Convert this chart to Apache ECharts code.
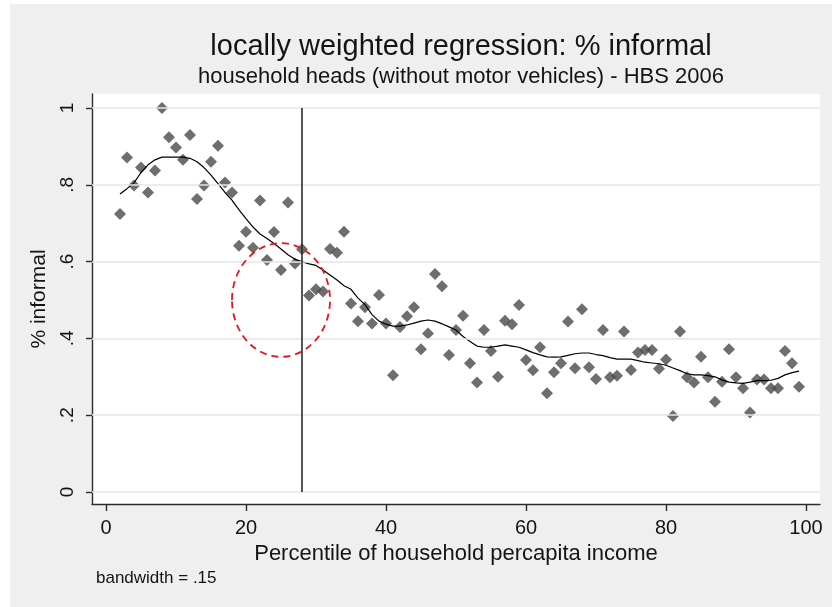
<!DOCTYPE html>
<html>
<head>
<meta charset="utf-8">
<script src="https://cdn.jsdelivr.net/npm/echarts@6/dist/echarts.min.js"></script>
<style>
  html, body { margin: 0; padding: 0; background: #ffffff; }
  #chart { width: 832px; height: 607px; }
</style>
</head>
<body>
<div id="chart"></div>
<script>
// Percentile of household per-capita income (x) and share informal (y)
const percentiles = [
  2, 3, 4, 5, 6, 7, 8, 9, 10, 11, 12, 13, 14, 15, 16, 17, 18, 19, 20, 21,
  22, 23, 24, 25, 26, 27, 28, 29, 30, 31, 32, 33, 34, 35, 36, 37, 38, 39, 40, 41,
  42, 43, 44, 45, 46, 47, 48, 49, 50, 51, 52, 53, 54, 55, 56, 57, 58, 59, 60, 61,
  62, 63, 64, 65, 66, 67, 68, 69, 70, 71, 72, 73, 74, 75, 76, 77, 78, 79, 80, 81,
  82, 83, 84, 85, 86, 87, 88, 89, 90, 91, 92, 93, 94, 95, 96, 97, 98, 99
];
const informalShare = [
  0.724, 0.871, 0.798, 0.845, 0.780, 0.837, 1.000, 0.924, 0.897, 0.865,
  0.930, 0.763, 0.798, 0.860, 0.902, 0.806, 0.780, 0.641, 0.678, 0.636,
  0.759, 0.604, 0.677, 0.578, 0.754, 0.595, 0.632, 0.512, 0.528, 0.522,
  0.633, 0.623, 0.678, 0.491, 0.445, 0.481, 0.439, 0.513, 0.439, 0.304,
  0.430, 0.458, 0.481, 0.372, 0.413, 0.568, 0.536, 0.357, 0.422, 0.459,
  0.335, 0.285, 0.422, 0.367, 0.300, 0.446, 0.437, 0.487, 0.344, 0.317,
  0.377, 0.257, 0.312, 0.335, 0.444, 0.322, 0.476, 0.325, 0.294, 0.422,
  0.299, 0.303, 0.418, 0.318, 0.363, 0.370, 0.370, 0.321, 0.345, 0.198,
  0.418, 0.299, 0.285, 0.352, 0.299, 0.235, 0.287, 0.372, 0.299, 0.270,
  0.207, 0.293, 0.293, 0.270, 0.270, 0.367, 0.335, 0.274
];
// Locally weighted (lowess) fit evaluated at each percentile
const lowessFit = [
  0.776, 0.790, 0.805, 0.832, 0.852, 0.865, 0.872, 0.872, 0.872, 0.872,
  0.869, 0.860, 0.845, 0.825, 0.803, 0.780, 0.760, 0.735, 0.712, 0.690,
  0.672, 0.660, 0.647, 0.633, 0.618, 0.606, 0.600, 0.594, 0.590, 0.578,
  0.565, 0.552, 0.537, 0.528, 0.505, 0.488, 0.462, 0.445, 0.437, 0.432,
  0.432, 0.435, 0.440, 0.445, 0.448, 0.445, 0.438, 0.430, 0.422, 0.405,
  0.392, 0.380, 0.377, 0.377, 0.380, 0.383, 0.380, 0.377, 0.370, 0.363,
  0.357, 0.352, 0.351, 0.352, 0.356, 0.360, 0.362, 0.362, 0.358, 0.355,
  0.350, 0.346, 0.346, 0.346, 0.342, 0.338, 0.336, 0.334, 0.330, 0.323,
  0.316, 0.308, 0.305, 0.305, 0.303, 0.300, 0.292, 0.286, 0.284, 0.283,
  0.286, 0.290, 0.290, 0.291, 0.296, 0.305, 0.311, 0.315
];
const xTicks = [0, 20, 40, 60, 80, 100];
const yTicks = [0, 0.2, 0.4, 0.6, 0.8, 1];
const yTickLabels = ['0', '.2', '.4', '.6', '.8', '1'];
const cutoffPercentile = 28;
// Highlighted region around the cutoff (data units)
const highlightCenter = [25, 0.5];
const highlightRadii = [7, 0.148];

const FONT = '"Liberation Sans", Arial, sans-serif';
const INK = '#141414';
const AXIS = '#2b2b2b';

const chart = echarts.init(document.getElementById('chart'), null, { renderer: 'canvas' });

const scatterData = percentiles.map((p, i) => [p, informalShare[i]]);
const fitData = percentiles.map((p, i) => [p, lowessFit[i]]);

chart.setOption({
  animation: false,
  backgroundColor: '#efefef',
  title: [
    {
      text: 'locally weighted regression: % informal',
      left: 456, top: 27, textAlign: 'center',
      textStyle: { fontFamily: FONT, fontSize: 29, fontWeight: 'normal', color: INK }
    },
    {
      text: 'household heads (without motor vehicles) - HBS 2006',
      left: 456, top: 61, textAlign: 'center',
      textStyle: { fontFamily: FONT, fontSize: 22, fontWeight: 'normal', color: INK }
    },
    {
      text: 'bandwidth = .15',
      left: 91, top: 565,
      textStyle: { fontFamily: FONT, fontSize: 17, fontWeight: 'normal', color: INK }
    }
  ],
  grid: {
    left: 92, right: 12, top: 94, bottom: 103,
    show: true, backgroundColor: '#ffffff', borderWidth: 0
  },
  xAxis: {
    type: 'value', min: -2, max: 102,
    name: 'Percentile of household percapita income',
    nameLocation: 'middle', nameGap: 33,
    nameTextStyle: { fontFamily: FONT, fontSize: 22, color: INK },
    axisLine: { show: true, onZero: false, lineStyle: { color: AXIS, width: 1.4 } },
    axisTick: { show: true, customValues: xTicks, length: 7, lineStyle: { color: AXIS, width: 1.4 } },
    axisLabel: { customValues: xTicks, margin: 14, fontFamily: FONT, fontSize: 20, color: INK },
    splitLine: { show: false }
  },
  yAxis: {
    type: 'value', min: -0.03125, max: 1.0365,
    name: '% informal',
    nameLocation: 'middle', nameGap: 40, nameRotate: 90,
    nameTextStyle: { fontFamily: FONT, fontSize: 21, color: INK },
    axisLine: { show: true, onZero: false, lineStyle: { color: AXIS, width: 1.4 } },
    axisTick: { show: true, customValues: yTicks, length: 6, lineStyle: { color: AXIS, width: 1.4 } },
    axisLabel: {
      customValues: yTicks, rotate: 90, margin: 15,
      fontFamily: FONT, fontSize: 19, color: INK,
      formatter: function (v) {
        let best = 0;
        yTicks.forEach((t, i) => { if (Math.abs(t - v) < Math.abs(yTicks[best] - v)) best = i; });
        return yTickLabels[best];
      }
    },
    splitLine: { show: false }
  },
  series: [
    {
      // horizontal grid lines and the cutoff line
      type: 'line', data: [], z: 1, silent: true,
      markLine: {
        silent: true, symbol: 'none', animation: false,
        label: { show: false },
        data: yTicks.map(v => ({ yAxis: v, lineStyle: { color: '#e6e6e6', width: 1.6, type: 'solid' } })).concat([
          [
            { coord: [cutoffPercentile, 0], lineStyle: { color: '#2b2b2b', width: 1.6, type: 'solid' } },
            { coord: [cutoffPercentile, 1] }
          ]
        ])
      }
    },
    {
      name: '% informal', type: 'scatter', data: scatterData, z: 2,
      symbol: 'diamond', symbolSize: 12,
      itemStyle: { color: '#4a4a4a' }
    },
    {
      name: 'lowess', type: 'line', data: fitData, z: 3,
      showSymbol: false, symbol: 'none', smooth: false,
      lineStyle: { color: '#000000', width: 1.2 }
    }
  ]
});

// Dashed ellipse marking the region around the cutoff, placed via the axes
const c = chart.convertToPixel({ gridIndex: 0 }, highlightCenter);
const e = chart.convertToPixel({ gridIndex: 0 }, [highlightCenter[0] + highlightRadii[0], highlightCenter[1] + highlightRadii[1]]);
chart.setOption({
  graphic: [
    { id: 'topStrip', type: 'rect', shape: { x: 0, y: 0, width: 832, height: 4 }, style: { fill: '#ffffff' }, silent: true },
    { id: 'leftStrip', type: 'rect', shape: { x: 0, y: 0, width: 10, height: 607 }, style: { fill: '#ffffff' }, silent: true },
    {
      id: 'highlight', type: 'ellipse', z: 10, silent: true,
      shape: { cx: c[0], cy: c[1], rx: Math.abs(e[0] - c[0]), ry: Math.abs(c[1] - e[1]) },
      style: { fill: 'none', stroke: '#e8141b', lineWidth: 1.8, lineDash: [7, 5] }
    }
  ]
});
</script>
</body>
</html>
